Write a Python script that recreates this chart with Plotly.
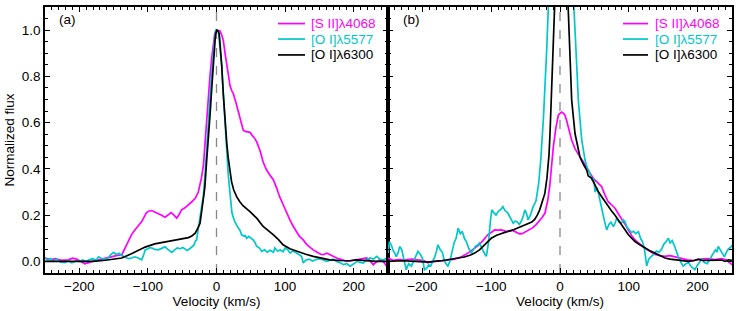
import plotly.graph_objects as go

# ---------------- Panel (a) data ----------------
a_v_s2 = [-250,-242,-235,-226,-216,-210,-204,-198,-192,-185,-178,-172,-165,-158,-153,-146,-138,-133,-128.6,-124,-119,-114,-109,-105,-102,-98,-94.5,-90,-85,-80,-75,-70,-66,-62,-58,-54,-51,-46,-41,-36,-31,-26.5,-22,-19,-16.5,-14,-11.5,-9.5,-7,-4.7,-2.5,-0.7,2,5,7.5,10,12.5,15,17.5,19.7,22,24.5,28,31.8,35,39,42,46,48.8,52,55,58.6,63.4,68,73,78,83,87.8,92,97.4,102,107,112,117,121,126.5,131,136,141,148,152,155.7,160.6,165,170,175,182,190,197,204,212,219,224,228.6,233,238,243,248,250]
a_f_s2 = [0.015,0.008,0.012,0.005,0.007,0.014,0.01,0.0,-0.01,-0.004,0.004,0.007,0.012,0.018,0.02,0.025,0.029,0.06,0.093,0.115,0.136,0.152,0.172,0.195,0.211,0.218,0.22,0.214,0.208,0.2,0.191,0.2,0.211,0.2,0.187,0.205,0.223,0.232,0.244,0.258,0.273,0.3,0.36,0.416,0.52,0.63,0.72,0.80,0.88,0.947,0.985,1.0,1.0,0.997,0.98,0.954,0.9,0.847,0.8,0.76,0.74,0.725,0.69,0.646,0.61,0.567,0.562,0.56,0.558,0.545,0.535,0.517,0.48,0.43,0.395,0.373,0.352,0.316,0.28,0.244,0.21,0.18,0.151,0.125,0.108,0.093,0.075,0.062,0.05,0.038,0.031,0.029,0.036,0.03,0.022,0.015,0.008,0.0,0.004,0.007,0.01,0.015,0.002,-0.014,-0.002,0.007,0.0,-0.02,-0.015]

a_v_o5577 = [-250,-246,-242,-238,-233,-228,-221,-216,-211,-205,-200,-195,-190,-185,-180,-176,-172,-167,-162,-158,-154,-150,-146,-142,-138,-133,-128,-124,-119,-114,-109,-106,-104,-100,-97,-94,-90,-85,-80,-75,-70,-65,-61,-57,-53,-49,-45,-43,-39,-36,-33,-31,-29,-26.5,-23,-19,-16.5,-14,-11.5,-9.5,-7,-4.7,-2.5,-1,1,3,5,7.6,10,12.4,15,17.2,19.7,20.7,22.5,24.5,27,31.8,34,36.6,40,42,44,47,50,53.6,56,58.6,62,66,70,74,78,83,85,89,93,97,100,104,107,111,115,120,124,126.5,130,135,140,145,150,155.7,160,165,170,175,180,185,190,195,200,205,210,214,219,224,229,233.5,238,243,248,250]
a_f_o5577 = [0.015,0.005,0.012,0.0,0.01,-0.002,-0.005,0.004,-0.006,0.002,0.0,0.007,0.0,0.008,0.012,0.004,0.02,0.012,0.008,0.015,0.03,0.039,0.03,0.035,0.025,0.02,0.012,0.015,0.02,0.015,0.007,0.03,0.05,0.055,0.06,0.058,0.052,0.05,0.058,0.063,0.05,0.039,0.05,0.058,0.055,0.06,0.052,0.047,0.055,0.062,0.07,0.086,0.093,0.144,0.22,0.287,0.39,0.488,0.61,0.703,0.81,0.904,0.97,1.0,1.0,0.99,0.93,0.847,0.72,0.59,0.47,0.373,0.294,0.25,0.21,0.19,0.17,0.144,0.136,0.115,0.11,0.112,0.1,0.108,0.1,0.093,0.082,0.065,0.06,0.043,0.05,0.04,0.048,0.04,0.058,0.045,0.05,0.042,0.058,0.05,0.036,0.045,0.04,0.03,0.022,-0.007,0.005,0.01,0.002,0.008,0.012,0.007,0.0,0.004,0.01,0.0,-0.005,-0.014,-0.01,-0.021,-0.01,0.0,-0.004,-0.007,0.008,0.015,0.01,0.022,0.01,0.005,0.015,0.012]

a_v_o6300 = [-250,-220,-196,-180,-162,-150,-138,-124,-114,-104,-90,-80,-70,-56,-41,-36,-31,-27,-24,-21,-17,-14.5,-12,-9.5,-7,-5,-3.5,-1.5,0.5,2.5,4,6,7.6,10,12.4,15,17.2,20,22,25,29.4,34,39,48.8,58.6,68,78,83,90,97,107,117,129,141,153,165,180,195,204,215,233,250]
a_f_o6300 = [0.0,0.0,-0.003,0.0,0.005,0.009,0.015,0.033,0.048,0.062,0.076,0.081,0.086,0.093,0.103,0.11,0.122,0.145,0.165,0.23,0.32,0.43,0.517,0.63,0.746,0.85,0.92,0.98,1.0,0.995,0.983,0.92,0.847,0.72,0.603,0.51,0.445,0.38,0.344,0.31,0.28,0.258,0.24,0.215,0.187,0.151,0.129,0.115,0.095,0.072,0.055,0.043,0.032,0.022,0.013,0.007,0.004,0.003,0.007,0.004,0.0,0.0]

# ---------------- Panel (b) data ----------------
b_v_s2 = [-250,-243,-235,-225,-215,-205,-197,-192,-185,-175,-165,-153,-143,-134,-126,-119,-112,-105,-100,-95,-90,-85,-82,-78,-74,-70,-66,-62,-58.7,-55,-50,-46.5,-40,-35,-32,-26,-22,-18,-15,-12,-9.7,-5.8,-2.4,0,2.4,5,7.3,10,12,15,17,21.8,25,29,34,38.8,43,48.5,53,57,60.6,65,70,75,80,85,89.7,95,99.4,104,109,116,123,130,138,145,152,160,167,175,185,195,205,215,225,235,242,250]
b_f_s2 = [0.015,0.005,0.008,0.007,0.01,0.006,0.003,-0.006,0.0,0.002,0.004,0.01,0.02,0.036,0.052,0.068,0.09,0.115,0.125,0.136,0.135,0.136,0.133,0.129,0.132,0.135,0.13,0.122,0.119,0.12,0.128,0.133,0.145,0.158,0.168,0.19,0.208,0.26,0.323,0.42,0.495,0.581,0.632,0.64,0.646,0.64,0.632,0.605,0.581,0.55,0.524,0.488,0.47,0.452,0.43,0.409,0.385,0.359,0.345,0.335,0.323,0.29,0.258,0.245,0.23,0.205,0.18,0.158,0.136,0.112,0.093,0.075,0.058,0.045,0.03,0.025,0.022,0.025,0.02,0.012,0.007,0.004,0.01,0.012,0.008,0.012,0.006,-0.014]

b_v_o5577 = [-250,-248,-245,-243,-240,-238,-235,-233,-230,-227,-223.5,-220,-216,-213,-210,-206.5,-203,-200,-197,-194,-191,-188,-185,-182,-179,-177.5,-174,-171,-168,-165,-163,-160,-157,-154,-151,-148,-145,-142,-139,-136,-133,-129,-126,-123,-120,-117,-114,-111,-109,-107,-104,-101,-99,-96,-93,-90,-86,-83,-80,-76,-72,-68,-65,-62,-59,-56,-53,-51,-48.5,-46.5,-43,-39,-35,-31,-28,-24,-19.4,-17,-12,-5,0,5,12,19.4,23.3,26.7,29,31.6,36.4,40,43.6,47,49,51,54,56,58,61,63,65,68,71,74,77.6,80,82.5,86,89,92,94.5,97,100,104,107,110,114,117,120,123,126,129,132,136,140,144,148,151,154,157.6,160,163,166,169,172,176,179,183,187,190,193,196,199,203,206,210,214,218,221,223,226,228,230,233,236,239,242,245,248,250]
b_f_o5577 = [0.036,0.086,0.07,0.05,0.035,0.02,0.04,0.065,0.05,0.01,-0.036,-0.01,-0.02,0.0,0.02,0.043,0.03,0.015,-0.036,-0.03,-0.015,-0.02,0.0,0.02,0.05,0.072,0.05,0.04,0.0,-0.01,-0.02,0.0,0.045,0.08,0.1,0.144,0.12,0.13,0.1,0.085,0.06,0.036,0.05,0.065,0.07,0.08,0.06,0.04,0.03,0.022,0.08,0.18,0.223,0.21,0.2,0.215,0.225,0.237,0.22,0.21,0.185,0.165,0.175,0.17,0.16,0.175,0.2,0.223,0.205,0.18,0.2,0.237,0.26,0.337,0.438,0.624,0.91,1.1,1.6,2.2,2.4,2.2,1.6,1.1,0.91,0.696,0.596,0.524,0.438,0.4,0.38,0.35,0.36,0.3,0.32,0.29,0.265,0.23,0.2,0.17,0.136,0.16,0.17,0.151,0.165,0.187,0.17,0.165,0.18,0.172,0.15,0.14,0.125,0.13,0.12,0.129,0.1,0.085,0.05,-0.02,0.01,0.02,0.03,0.045,0.04,0.055,0.075,0.085,0.1,0.08,0.09,0.07,0.04,0.02,-0.005,-0.02,-0.01,-0.005,-0.02,-0.03,-0.036,-0.02,0.0,0.01,-0.005,-0.01,0.01,0.03,0.036,0.05,0.04,0.065,0.05,0.03,0.02,0.04,0.055,0.06,0.07]

b_v_o6300 = [-250,-230,-210,-192,-175,-163,-150,-139,-130,-124,-117,-109.5,-100,-92,-85,-78,-71,-63,-56,-46.5,-41,-36.8,-33,-29.5,-25,-22,-19,-16,-14.5,-12,-9.7,-6,-2,1,4,8,12,14.5,17,21.8,25,29,34,38.8,41,46,51,55,60.6,65,70,75,80,85,89.7,95,99.4,104,109,116,123.6,130,138,145,152.7,160,167,177,186.6,194,201,207,215,225,235,240,245,250]
b_f_o6300 = [0.0,0.003,0.0,-0.003,0.002,0.007,0.012,0.019,0.028,0.036,0.05,0.072,0.1,0.113,0.122,0.128,0.133,0.142,0.151,0.162,0.17,0.182,0.2,0.223,0.26,0.294,0.36,0.46,0.553,0.84,1.1,1.4,1.58,1.62,1.58,1.4,1.1,0.84,0.696,0.553,0.5,0.452,0.42,0.395,0.37,0.359,0.33,0.305,0.28,0.26,0.237,0.218,0.2,0.18,0.158,0.135,0.115,0.1,0.086,0.072,0.058,0.047,0.036,0.025,0.015,0.01,0.007,0.003,0.0,0.003,0.01,0.004,0.005,0.003,0.006,0.0,0.007,0.005]

names = ["[S II]λ4068", "[O I]λ5577", "[O I]λ6300"]
colors = ["#FF00FF", "#00C8C8", "#000000"]

FONT = "Liberation Sans, Arial, sans-serif"
W, H = 747, 311
ML, MR, MT, MB = 45, 15, 5, 38
PW, PH = W - ML - MR, H - MT - MB


def px2paper_x(px):
    return (px - ML) / PW


def px2paper_y(py):
    return (H - MB - py) / PH


fig = go.Figure()

panels = [
    ("x", "y", [(a_v_s2, a_f_s2), (a_v_o5577, a_f_o5577), (a_v_o6300, a_f_o6300)]),
    ("x2", "y2", [(b_v_s2, b_f_s2), (b_v_o5577, b_f_o5577), (b_v_o6300, b_f_o6300)]),
]
for xa, ya, series in panels:
    for (v, f), nm, c in zip(series, names, colors):
        fig.add_trace(go.Scatter(
            x=v, y=f, mode="lines", xaxis=xa, yaxis=ya, name=nm,
            showlegend=False, hoverinfo="skip", line=dict(color=c, width=1.7),
        ))

axis_common = dict(
    range=[-250, 250], showline=True, linecolor="black", linewidth=1.5,
    mirror="ticks", ticks="inside", ticklen=5, tickwidth=1, tickcolor="black",
    showgrid=False, zeroline=False, dtick=100, tick0=0,
    tickfont=dict(family=FONT, size=13.5, color="black"),
    minor=dict(ticks="inside", ticklen=3, tickwidth=1, tickcolor="black", dtick=10, showgrid=False),
    title=dict(text="Velocity (km/s)", font=dict(family=FONT, size=13.5, color="black"), standoff=2),
)
yaxis_common = dict(
    range=[-0.05, 1.1], showline=True, linecolor="black", linewidth=1.5,
    mirror="ticks", ticks="inside", ticklen=5, tickwidth=1, tickcolor="black",
    showgrid=False, zeroline=False, dtick=0.2, tick0=0, tickformat=".1f",
    tickfont=dict(family=FONT, size=13.5, color="black"),
    minor=dict(ticks="inside", ticklen=3, tickwidth=1, tickcolor="black", dtick=0.05, showgrid=False),
)

# legend drawn as decoration (sample line + coloured label), per panel
legend_rows_py = [21.7, 37.3, 53.3]
legend_panels = [(278, 305, 309), (623, 648, 653)]
shapes = [
    dict(type="line", xref="x", yref="y domain", x0=0, x1=0, y0=0, y1=1,
         line=dict(color="#888888", width=1.3, dash="dash"), layer="below"),
    dict(type="line", xref="x2", yref="y2 domain", x0=0, x1=0, y0=0, y1=1,
         line=dict(color="#888888", width=1.3, dash="dash"), layer="below"),
]
annotations = [
    dict(text="(a)", xref="paper", yref="paper", x=px2paper_x(57), y=px2paper_y(18),
         xanchor="left", yanchor="middle", showarrow=False,
         font=dict(family=FONT, size=13.5, color="black")),
    dict(text="(b)", xref="paper", yref="paper", x=px2paper_x(401), y=px2paper_y(18),
         xanchor="left", yanchor="middle", showarrow=False,
         font=dict(family=FONT, size=13.5, color="black")),
]
for lx0, lx1, tx in legend_panels:
    for py, nm, c in zip(legend_rows_py, names, colors):
        shapes.append(dict(type="line", xref="paper", yref="paper",
                           x0=px2paper_x(lx0), x1=px2paper_x(lx1),
                           y0=px2paper_y(py), y1=px2paper_y(py),
                           line=dict(color=c, width=1.7)))
        annotations.append(dict(text=nm, xref="paper", yref="paper",
                                x=px2paper_x(tx), y=px2paper_y(py),
                                xanchor="left", yanchor="middle", showarrow=False,
                                font=dict(family=FONT, size=13.5, color=c)))

split = 343 / PW
fig.update_layout(
    width=W, height=H,
    margin=dict(l=ML, r=MR, t=MT, b=MB),
    paper_bgcolor="white", plot_bgcolor="white",
    font=dict(family=FONT, size=13.5, color="black"),
    showlegend=False,
    xaxis=dict(domain=[0, split], anchor="y", **axis_common),
    xaxis2=dict(domain=[split, 1], anchor="y2", **axis_common),
    yaxis=dict(domain=[0, 1], anchor="x",
               title=dict(text="Normalized flux", font=dict(family=FONT, size=13.5, color="black"), standoff=4),
               **yaxis_common),
    yaxis2=dict(domain=[0, 1], anchor="x2", showticklabels=False, **yaxis_common),
    shapes=shapes,
    annotations=annotations,
)

fig.write_html("out.html", config={"displayModeBar": False},
               post_script="document.body.style.margin='0';")
